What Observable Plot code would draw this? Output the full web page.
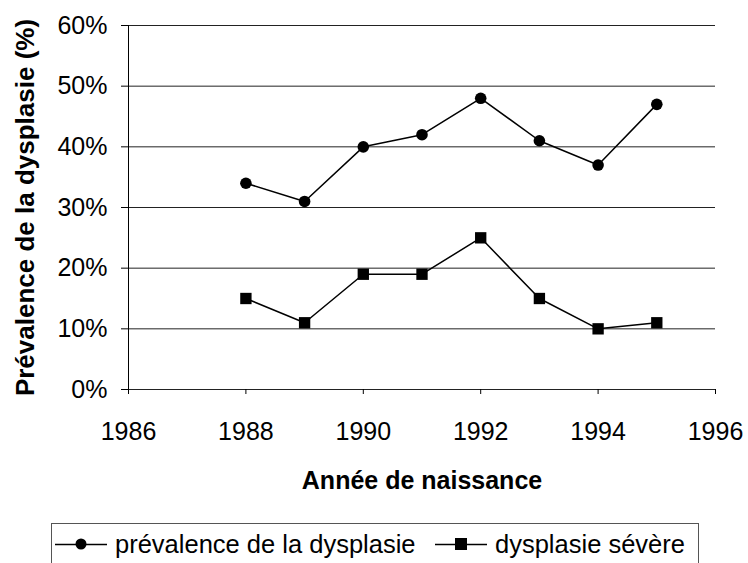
<!DOCTYPE html>
<html>
<head>
<meta charset="utf-8">
<script src="https://cdn.jsdelivr.net/npm/d3@7"></script>
<script src="https://cdn.jsdelivr.net/npm/@observablehq/plot@0.6"></script>
<style>
  html, body { margin: 0; padding: 0; background: #fff; }
  #wrap { position: relative; width: 748px; height: 563px; overflow: hidden; font-family: "Liberation Sans", Arial, sans-serif; color: #000; }
  #legend { position: absolute; left: 51px; top: 523px; width: 648px; height: 60px; border: 1px solid #555; box-sizing: border-box; background: #fff; }
  .item { position: absolute; top: 5px; display: flex; align-items: center; font-size: 25.5px; line-height: 30px; white-space: nowrap; }
  .item svg { display: block; margin-right: 8px; }
</style>
</head>
<body>
<div id="wrap">
  <div id="chart"></div>
  <div id="legend"></div>
</div>
<script>
const years = [1988, 1989, 1990, 1991, 1992, 1993, 1994, 1995];
const prevalence = [34, 31, 40, 42, 48, 41, 37, 47];
const severe = [15, 11, 19, 19, 25, 15, 10, 11];
const xTicks = [1986, 1988, 1990, 1992, 1994, 1996];
const yTicks = [0, 10, 20, 30, 40, 50, 60];
const seriesNames = ["prévalence de la dysplasie", "dysplasie sévère"];
const xTitle = "Année de naissance";
const yTitle = "Prévalence de la dysplasie (%)";

const dataPrev = years.map((y, i) => ({year: y, value: prevalence[i]}));
const dataSev = years.map((y, i) => ({year: y, value: severe[i]}));

const chart = Plot.plot({
  width: 748,
  height: 505,
  marginLeft: 128,
  marginRight: 33,
  marginTop: 25,
  marginBottom: 116,
  style: {fontFamily: "Liberation Sans, Arial, sans-serif", fontSize: "25px", color: "#000", background: "#fff"},
  x: {domain: [1986, 1996], label: null},
  y: {domain: [0, 60], label: null},
  marks: [
    Plot.gridY(yTicks, {stroke: "#222", strokeOpacity: 1}),
    Plot.ruleX([1986], {stroke: "#000"}),
    Plot.axisX(xTicks, {tickSize: 5, tickPadding: 28, tickFormat: d => String(d), label: null, fontSize: 25}),
    Plot.axisY(yTicks, {tickSize: 7, tickPadding: 14, tickFormat: d => d + "%", label: null, fontSize: 25}),
    Plot.line(dataPrev, {x: "year", y: "value", stroke: "#000", strokeWidth: 1.5}),
    Plot.line(dataSev, {x: "year", y: "value", stroke: "#000", strokeWidth: 1.5}),
    Plot.dot(dataPrev, {x: "year", y: "value", r: 5.8, fill: "#000", symbol: "circle"}),
    Plot.dot(dataSev, {x: "year", y: "value", r: 6.4, fill: "#000", symbol: "square"}),
    Plot.text([xTitle], {frameAnchor: "bottom", text: d => d, dy: 91, textAnchor: "middle", lineAnchor: "middle", fontWeight: "bold", fontSize: 25, fill: "#000"}),
    Plot.text([yTitle], {frameAnchor: "left", text: d => d, dx: -103, rotate: -90, textAnchor: "middle", lineAnchor: "middle", fontWeight: "bold", fontSize: 26, fill: "#000"})
  ]
});
document.getElementById("chart").appendChild(chart);

// legend
const legend = document.getElementById("legend");
const positions = [3, 383];
seriesNames.forEach((name, i) => {
  const item = document.createElement("div");
  item.className = "item";
  item.style.left = positions[i] + "px";
  const marker = i === 0
    ? '<circle cx="26" cy="10" r="5.5" fill="#000"/>'
    : '<rect x="20" y="4" width="12" height="12" fill="#000"/>';
  item.innerHTML = '<svg width="52" height="20"><line x1="0" x2="52" y1="10.5" y2="10.5" stroke="#000" stroke-width="1.5"/>' + marker + '</svg><span></span>';
  item.querySelector("span").textContent = name;
  legend.appendChild(item);
});
</script>
</body>
</html>
